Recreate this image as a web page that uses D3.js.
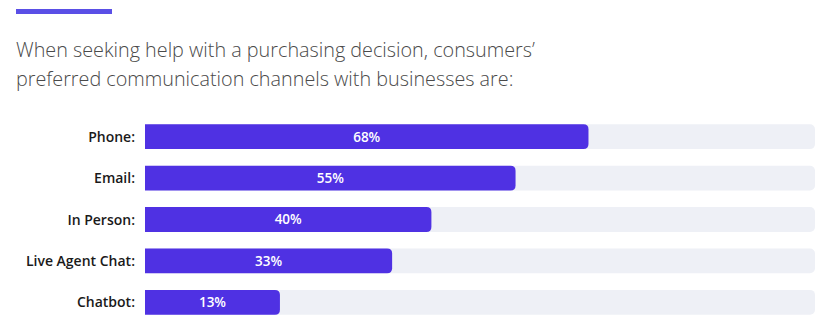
<!DOCTYPE html>
<html>
<head>
<meta charset="utf-8">
<script src="https://cdn.jsdelivr.net/npm/d3@7"></script>
<style>
  body { margin: 0; background: #fff; }
</style>
</head>
<body>
<div id="chart"></div>
<script>
// Data
const channels = ["Phone:", "Email:", "In Person:", "Live Agent Chat:", "Chatbot:"];
const shares = [68, 55, 40, 33, 13];
const titleLines = [
    "When seeking help with a purchasing decision, consumers\u2019",
    "preferred communication channels with businesses are:"
];

const W = 825, H = 329;
const trackX = 145, trackW = 670;

const svg = d3.select("#chart")
    .append("svg")
    .attr("width", W)
    .attr("height", H);

// accent bar on top
svg.append("rect")
    .attr("x", 16).attr("y", 9)
    .attr("width", 96).attr("height", 5)
    .attr("fill", "#5a4fe6");

// title
svg.selectAll("text.title")
    .data(titleLines)
    .enter().append("text")
    .attr("class", "title")
    .attr("x", 16)
    .attr("y", (d, i) => 57 + i * 29)
    .attr("font-family", "'Open Sans', sans-serif")
    .attr("font-weight", 300)
    .attr("font-size", 19.8)
    .attr("fill", "#4a4a4a")
    .text(d => d);

// scales (bars keep a minimum width so the label fits)
const y = d3.scaleBand()
    .domain(channels)
    .range([116, 323])
    .paddingInner(0.4)
    .paddingOuter(0.2);

const x = d3.scaleLinear()
    .domain([0, 100])
    .range([62, 623]);

const rows = svg.selectAll("g.row")
    .data(channels)
    .enter().append("g")
    .attr("class", "row")
    .attr("transform", d => `translate(0,${y(d)})`);

// background track
rows.append("rect")
    .attr("x", trackX)
    .attr("width", trackW)
    .attr("height", y.bandwidth())
    .attr("rx", 5)
    .attr("fill", "#eef0f6");

// bar: square left, rounded right
function barPath(w, h, r) {
    return `M0,0H${w - r}Q${w},0 ${w},${r}V${h - r}Q${w},${h} ${w - r},${h}H0Z`;
}

rows.append("path")
    .attr("transform", `translate(${trackX},0)`)
    .attr("d", (d, i) => barPath(x(shares[i]), y.bandwidth(), 5))
    .attr("fill", "#4f31e3");

rows.append("text")
    .attr("x", (d, i) => trackX + x(shares[i]) / 2)
    .attr("y", y.bandwidth() / 2)
    .attr("dy", "0.36em")
    .attr("text-anchor", "middle")
    .attr("font-family", "'Open Sans', sans-serif")
    .attr("font-weight", 600)
    .attr("font-size", 13.5)
    .attr("fill", "#fff")
    .text((d, i) => shares[i] + "%");

// category labels
rows.append("text")
    .attr("x", 135)
    .attr("y", y.bandwidth() / 2)
    .attr("dy", "0.36em")
    .attr("text-anchor", "end")
    .attr("font-family", "'Open Sans', sans-serif")
    .attr("font-weight", 600)
    .attr("font-size", 14)
    .attr("fill", "#1a1a1a")
    .text(d => d);
</script>
</body>
</html>
